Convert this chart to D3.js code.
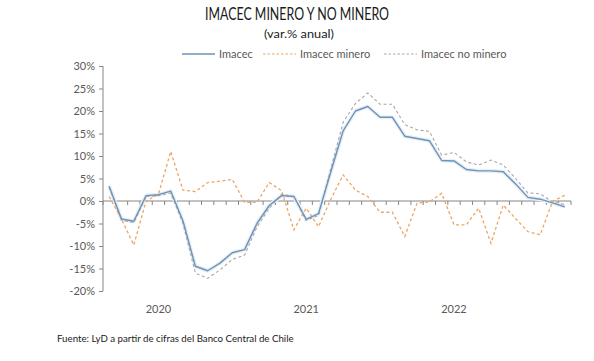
<!DOCTYPE html>
<html><head><meta charset="utf-8">
<script src="https://cdn.jsdelivr.net/npm/d3@7"></script>
<style>
html,body{margin:0;padding:0;background:#fff;}
text{font-family:Lato,"Open Sans",sans-serif;}
</style></head>
<body><svg id="c" width="594" height="361"></svg>
<script>
const months = ["sep-19","oct-19","nov-19","dic-19",
"ene-20","feb-20","mar-20","abr-20","may-20","jun-20","jul-20","ago-20","sep-20","oct-20","nov-20","dic-20",
"ene-21","feb-21","mar-21","abr-21","may-21","jun-21","jul-21","ago-21","sep-21","oct-21","nov-21","dic-21",
"ene-22","feb-22","mar-22","abr-22","may-22","jun-22","jul-22","ago-22","sep-22","oct-22"];
const imacec = [3.3,-4.0,-4.5,1.2,1.4,2.2,-4.5,-14.5,-15.5,-13.8,-11.5,-10.8,-5.0,-1.0,1.2,1.0,
-4.1,-2.8,6.5,15.6,20.0,21.0,18.6,18.6,14.4,13.9,13.4,9.0,8.9,7.0,6.7,6.7,6.5,3.8,0.8,0.4,-0.4,-1.3];
const minero = [1.0,-4.0,-9.8,0.0,1.5,11.0,2.4,2.1,4.1,4.4,4.8,-0.3,-0.3,4.1,2.3,-6.4,
-1.6,-5.7,0.4,5.8,2.4,1.0,-2.5,-2.5,-7.9,-0.5,-0.2,1.7,-5.3,-5.3,-1.6,-9.4,-0.9,-3.9,-6.8,-7.5,-0.1,1.3];
const noMinero = [3.0,-4.3,-4.8,1.0,1.2,1.8,-5.0,-16.0,-17.2,-15.3,-13.0,-12.0,-5.8,-1.6,1.5,1.0,
-4.3,-3.2,7.2,17.5,21.7,24.0,21.5,21.5,17.0,15.8,15.5,10.2,10.8,8.7,8.0,9.1,8.0,5.0,1.8,1.6,-0.2,-0.8];
const yTicks = [-20,-15,-10,-5,0,5,10,15,20,25,30];
const yearLabels = [{m:"ene-20",t:"2020"},{m:"ene-21",t:"2021"},{m:"ene-22",t:"2022"}];
const seriesNames = ["Imacec","Imacec minero","Imacec no minero"];

const svg = d3.select("#c");
const x = d3.scaleBand().domain(months).range([103,571]);
const y = d3.scaleLinear().domain([-20,30]).range([291,66]);
const cx = m => x(m) + x.bandwidth()/2;

// title
svg.append("text").attr("x",297).attr("y",20).attr("text-anchor","middle")
  .attr("font-size",17.5).attr("fill","#1a1a1a")
  .attr("textLength",184).attr("lengthAdjust","spacingAndGlyphs")
  .text("IMACEC MINERO Y NO MINERO");
svg.append("text").attr("x",299).attr("y",38).attr("text-anchor","middle")
  .attr("font-size",11.5).attr("fill","#222").attr("textLength",70).attr("lengthAdjust","spacingAndGlyphs")
  .text("(var.% anual)");

// legend
const leg = [
  {x:182, name:seriesNames[0], color:"#6d93b7", dash:null, w:1.3},
  {x:263, name:seriesNames[1], color:"#eba564", dash:"2.5,2", w:1},
  {x:384, name:seriesNames[2], color:"#a8a8a8", dash:"2.5,2", w:1}
];
leg.forEach(l=>{
  svg.append("line").attr("x1",l.x).attr("x2",l.x+33).attr("y1",54).attr("y2",54)
    .attr("stroke",l.color).attr("stroke-width",l.w).attr("stroke-dasharray",l.dash);
  svg.append("text").attr("x",l.x+37).attr("y",58).attr("font-size",11).attr("fill","#595959").text(l.name);
});

// y axis
const yAxis = d3.axisLeft(y).tickValues(yTicks).tickSize(4).tickPadding(4).tickFormat(d=>d+"%");
const ga = svg.append("g").attr("transform","translate(103,0)").call(yAxis);
ga.select(".domain").attr("stroke","#868686").attr("d","M0,66V291");
ga.selectAll(".tick line").attr("stroke","#868686");
ga.selectAll(".tick text").attr("font-size",11).attr("fill","#595959").attr("font-family","Lato,'Open Sans',sans-serif");

// x axis at zero
const edges = months.map(m=>x(m)).concat([x.range()[1]]);
const gx = svg.append("g");
gx.append("line").attr("x1",103).attr("x2",571).attr("y1",y(0)).attr("y2",y(0)).attr("stroke","#868686");
gx.selectAll("line.t").data(edges).join("line").attr("class","t")
  .attr("x1",d=>d).attr("x2",d=>d).attr("y1",y(0)).attr("y2",y(0)+4).attr("stroke","#868686");
svg.selectAll("text.yr").data(yearLabels).join("text").attr("class","yr")
  .attr("x",d=>cx(d.m)).attr("y",313).attr("text-anchor","middle")
  .attr("font-size",11).attr("fill","#595959").text(d=>d.t);

// lines
const line = vals => d3.line().x((d,i)=>cx(months[i])).y(d=>y(d))(vals);
svg.append("path").attr("d",line(imacec)).attr("fill","none").attr("stroke","#e8eff7").attr("stroke-width",4).attr("stroke-linejoin","round");
svg.append("path").attr("d",line(minero)).attr("fill","none").attr("stroke","#eba564").attr("stroke-width",1.3).attr("stroke-dasharray","3,2.5");
svg.append("path").attr("d",line(noMinero)).attr("fill","none").attr("stroke","#a8a8a8").attr("stroke-width",1.1).attr("stroke-dasharray","3,2.5");
svg.append("path").attr("d",line(imacec)).attr("fill","none").attr("stroke","#6d93b7").attr("stroke-width",1.4).attr("stroke-linejoin","round");

// source
svg.append("text").attr("x",57).attr("y",342).attr("font-size",9.7).attr("fill","#222")
  .text("Fuente: LyD a partir de cifras del Banco Central de Chile");
</script></body></html>
